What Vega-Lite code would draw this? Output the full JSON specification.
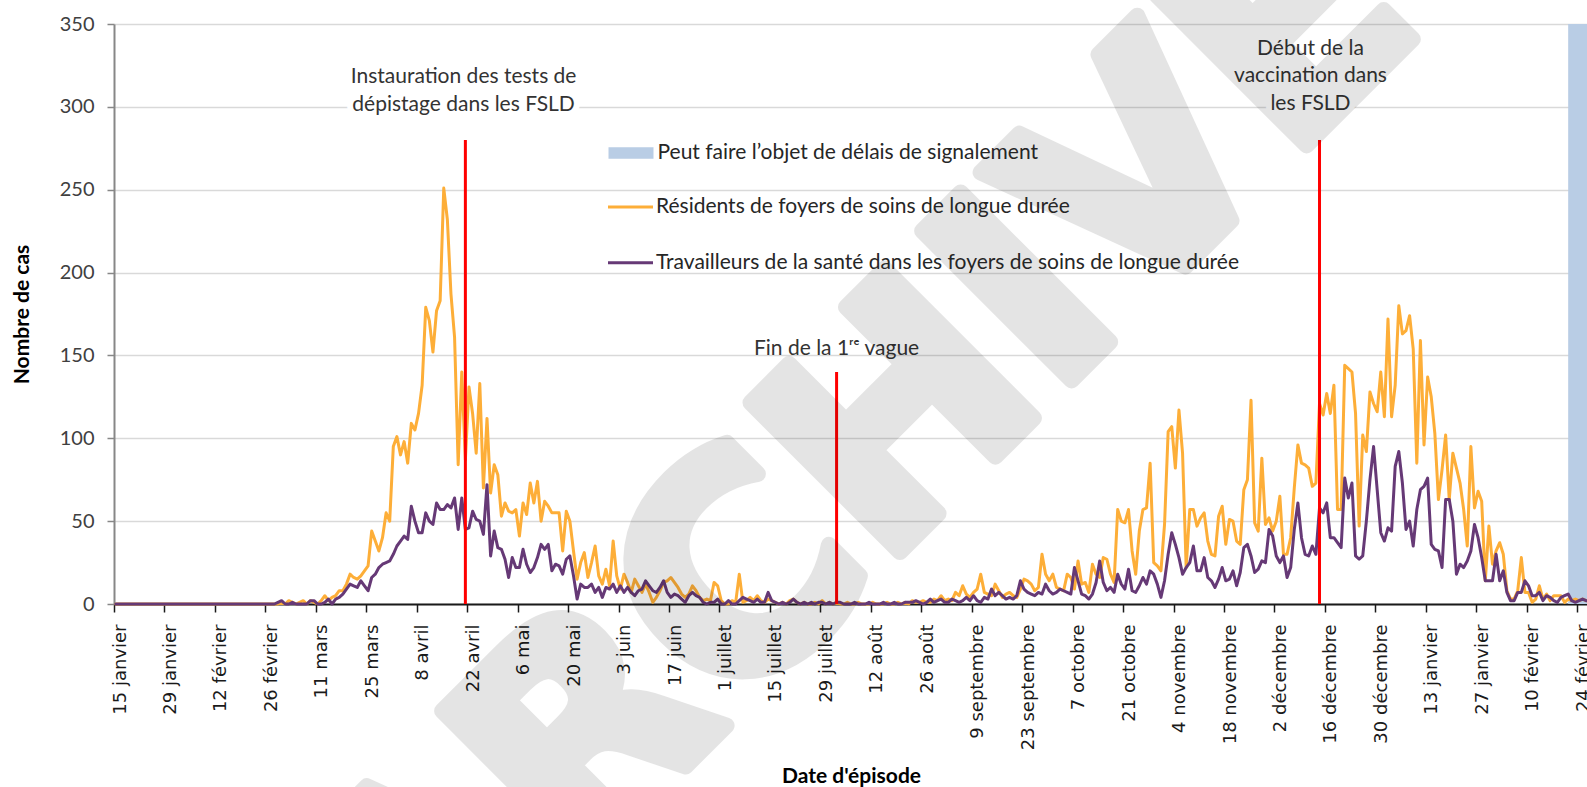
{
"$schema":"https://vega.github.io/schema/vega-lite/v6.json",
"width":1474,"height":580,"autosize":"none",
"padding":{"left":114,"top":24,"right":0,"bottom":183},
"background":"white",
"datasets":{
"quotidien":[
{"date":"2020-01-15","res":0,"trav":0},{"date":"2020-01-16","res":0,"trav":0},{"date":"2020-01-17","res":0,"trav":0},{"date":"2020-01-18","res":0,"trav":0},{"date":"2020-01-19","res":0,"trav":0},{"date":"2020-01-20","res":0,"trav":0},{"date":"2020-01-21","res":0,"trav":0},{"date":"2020-01-22","res":0,"trav":0},{"date":"2020-01-23","res":0,"trav":0},{"date":"2020-01-24","res":0,"trav":0},{"date":"2020-01-25","res":0,"trav":0},{"date":"2020-01-26","res":0,"trav":0},{"date":"2020-01-27","res":0,"trav":0},{"date":"2020-01-28","res":0,"trav":0},{"date":"2020-01-29","res":0,"trav":0},{"date":"2020-01-30","res":0,"trav":0},{"date":"2020-01-31","res":0,"trav":0},
{"date":"2020-02-01","res":0,"trav":0},{"date":"2020-02-02","res":0,"trav":0},{"date":"2020-02-03","res":0,"trav":0},{"date":"2020-02-04","res":0,"trav":0},{"date":"2020-02-05","res":0,"trav":0},{"date":"2020-02-06","res":0,"trav":0},{"date":"2020-02-07","res":0,"trav":0},{"date":"2020-02-08","res":0,"trav":0},{"date":"2020-02-09","res":0,"trav":0},{"date":"2020-02-10","res":0,"trav":0},{"date":"2020-02-11","res":0,"trav":0},{"date":"2020-02-12","res":0,"trav":0},{"date":"2020-02-13","res":0,"trav":0},{"date":"2020-02-14","res":0,"trav":0},{"date":"2020-02-15","res":0,"trav":0},{"date":"2020-02-16","res":0,"trav":0},{"date":"2020-02-17","res":0,"trav":0},{"date":"2020-02-18","res":0,"trav":0},{"date":"2020-02-19","res":0,"trav":0},{"date":"2020-02-20","res":0,"trav":0},{"date":"2020-02-21","res":0,"trav":0},{"date":"2020-02-22","res":0,"trav":0},{"date":"2020-02-23","res":0,"trav":0},{"date":"2020-02-24","res":0,"trav":0},{"date":"2020-02-25","res":0,"trav":0},{"date":"2020-02-26","res":0,"trav":0},{"date":"2020-02-27","res":0,"trav":0},{"date":"2020-02-28","res":0,"trav":0},{"date":"2020-02-29","res":0,"trav":1},
{"date":"2020-03-01","res":1,"trav":2},{"date":"2020-03-02","res":0,"trav":0},{"date":"2020-03-03","res":2,"trav":0},{"date":"2020-03-04","res":1,"trav":1},{"date":"2020-03-05","res":0,"trav":0},{"date":"2020-03-06","res":1,"trav":0},{"date":"2020-03-07","res":2,"trav":0},{"date":"2020-03-08","res":0,"trav":0},{"date":"2020-03-09","res":2,"trav":2},{"date":"2020-03-10","res":1,"trav":2},{"date":"2020-03-11","res":0,"trav":0},{"date":"2020-03-12","res":2,"trav":0},{"date":"2020-03-13","res":5,"trav":1},{"date":"2020-03-14","res":2,"trav":3},{"date":"2020-03-15","res":4,"trav":0},{"date":"2020-03-16","res":5,"trav":3},{"date":"2020-03-17","res":8,"trav":4},{"date":"2020-03-18","res":8,"trav":6},{"date":"2020-03-19","res":12,"trav":9},{"date":"2020-03-20","res":18,"trav":12},{"date":"2020-03-21","res":16,"trav":11},{"date":"2020-03-22","res":15,"trav":10},{"date":"2020-03-23","res":17,"trav":14},{"date":"2020-03-24","res":20,"trav":11},{"date":"2020-03-25","res":23,"trav":8},{"date":"2020-03-26","res":44,"trav":16},{"date":"2020-03-27","res":38,"trav":18},{"date":"2020-03-28","res":32,"trav":22},{"date":"2020-03-29","res":40,"trav":24},{"date":"2020-03-30","res":55,"trav":25},{"date":"2020-03-31","res":50,"trav":26},
{"date":"2020-04-01","res":95,"trav":30},{"date":"2020-04-02","res":101,"trav":35},{"date":"2020-04-03","res":90,"trav":38},{"date":"2020-04-04","res":98,"trav":41},{"date":"2020-04-05","res":85,"trav":39},{"date":"2020-04-06","res":109,"trav":59},{"date":"2020-04-07","res":105,"trav":50},{"date":"2020-04-08","res":115,"trav":43},{"date":"2020-04-09","res":132,"trav":43},{"date":"2020-04-10","res":179,"trav":55},{"date":"2020-04-11","res":171,"trav":50},{"date":"2020-04-12","res":152,"trav":48},{"date":"2020-04-13","res":177,"trav":61},{"date":"2020-04-14","res":183,"trav":57},{"date":"2020-04-15","res":251,"trav":57},{"date":"2020-04-16","res":232,"trav":60},{"date":"2020-04-17","res":187,"trav":58},{"date":"2020-04-18","res":161,"trav":64},{"date":"2020-04-19","res":84,"trav":45},{"date":"2020-04-20","res":140,"trav":64},{"date":"2020-04-21","res":87,"trav":45},{"date":"2020-04-22","res":131,"trav":46},{"date":"2020-04-23","res":115,"trav":56},{"date":"2020-04-24","res":91,"trav":51},{"date":"2020-04-25","res":133,"trav":50},{"date":"2020-04-26","res":70,"trav":42},{"date":"2020-04-27","res":112,"trav":72},{"date":"2020-04-28","res":67,"trav":29},{"date":"2020-04-29","res":84,"trav":44},{"date":"2020-04-30","res":78,"trav":34},
{"date":"2020-05-01","res":53,"trav":33},{"date":"2020-05-02","res":61,"trav":27},{"date":"2020-05-03","res":56,"trav":16},{"date":"2020-05-04","res":55,"trav":28},{"date":"2020-05-05","res":57,"trav":22},{"date":"2020-05-06","res":41,"trav":22},{"date":"2020-05-07","res":61,"trav":33},{"date":"2020-05-08","res":54,"trav":24},{"date":"2020-05-09","res":73,"trav":19},{"date":"2020-05-10","res":61,"trav":22},{"date":"2020-05-11","res":74,"trav":28},{"date":"2020-05-12","res":50,"trav":36},{"date":"2020-05-13","res":62,"trav":33},{"date":"2020-05-14","res":59,"trav":36},{"date":"2020-05-15","res":55,"trav":20},{"date":"2020-05-16","res":55,"trav":24},{"date":"2020-05-17","res":55,"trav":23},{"date":"2020-05-18","res":32,"trav":18},{"date":"2020-05-19","res":56,"trav":27},{"date":"2020-05-20","res":50,"trav":29},{"date":"2020-05-21","res":32,"trav":17},{"date":"2020-05-22","res":15,"trav":3},{"date":"2020-05-23","res":25,"trav":12},{"date":"2020-05-24","res":31,"trav":10},{"date":"2020-05-25","res":16,"trav":10},{"date":"2020-05-26","res":25,"trav":12},{"date":"2020-05-27","res":35,"trav":7},{"date":"2020-05-28","res":17,"trav":10},{"date":"2020-05-29","res":12,"trav":4},{"date":"2020-05-30","res":21,"trav":10},{"date":"2020-05-31","res":11,"trav":9},
{"date":"2020-06-01","res":38,"trav":12},{"date":"2020-06-02","res":17,"trav":7},{"date":"2020-06-03","res":9,"trav":11},{"date":"2020-06-04","res":18,"trav":7},{"date":"2020-06-05","res":13,"trav":10},{"date":"2020-06-06","res":7,"trav":7},{"date":"2020-06-07","res":15,"trav":5},{"date":"2020-06-08","res":11,"trav":8},{"date":"2020-06-09","res":7,"trav":9},{"date":"2020-06-10","res":12,"trav":14},{"date":"2020-06-11","res":7,"trav":11},{"date":"2020-06-12","res":1,"trav":8},{"date":"2020-06-13","res":4,"trav":7},{"date":"2020-06-14","res":8,"trav":10},{"date":"2020-06-15","res":13,"trav":14},{"date":"2020-06-16","res":14,"trav":7},{"date":"2020-06-17","res":16,"trav":4},{"date":"2020-06-18","res":13,"trav":6},{"date":"2020-06-19","res":10,"trav":5},{"date":"2020-06-20","res":6,"trav":3},{"date":"2020-06-21","res":4,"trav":1},{"date":"2020-06-22","res":6,"trav":5},{"date":"2020-06-23","res":11,"trav":7},{"date":"2020-06-24","res":8,"trav":5},{"date":"2020-06-25","res":4,"trav":4},{"date":"2020-06-26","res":2,"trav":1},{"date":"2020-06-27","res":3,"trav":0},{"date":"2020-06-28","res":2,"trav":1},{"date":"2020-06-29","res":13,"trav":1},{"date":"2020-06-30","res":11,"trav":3},
{"date":"2020-07-01","res":2,"trav":0},{"date":"2020-07-02","res":0,"trav":0},{"date":"2020-07-03","res":0,"trav":2},{"date":"2020-07-04","res":2,"trav":0},{"date":"2020-07-05","res":1,"trav":0},{"date":"2020-07-06","res":18,"trav":2},{"date":"2020-07-07","res":1,"trav":4},{"date":"2020-07-08","res":2,"trav":3},{"date":"2020-07-09","res":4,"trav":2},{"date":"2020-07-10","res":2,"trav":1},{"date":"2020-07-11","res":5,"trav":3},{"date":"2020-07-12","res":2,"trav":1},{"date":"2020-07-13","res":1,"trav":1},{"date":"2020-07-14","res":3,"trav":7},{"date":"2020-07-15","res":2,"trav":2},{"date":"2020-07-16","res":1,"trav":1},{"date":"2020-07-17","res":0,"trav":0},{"date":"2020-07-18","res":1,"trav":1},{"date":"2020-07-19","res":0,"trav":0},{"date":"2020-07-20","res":2,"trav":1},{"date":"2020-07-21","res":3,"trav":3},{"date":"2020-07-22","res":1,"trav":1},{"date":"2020-07-23","res":0,"trav":0},{"date":"2020-07-24","res":1,"trav":1},{"date":"2020-07-25","res":0,"trav":0},{"date":"2020-07-26","res":0,"trav":1},{"date":"2020-07-27","res":1,"trav":0},{"date":"2020-07-28","res":0,"trav":1},{"date":"2020-07-29","res":2,"trav":1},{"date":"2020-07-30","res":0,"trav":0},{"date":"2020-07-31","res":1,"trav":1},
{"date":"2020-08-01","res":0,"trav":0},{"date":"2020-08-02","res":1,"trav":1},{"date":"2020-08-03","res":0,"trav":1},{"date":"2020-08-04","res":0,"trav":0},{"date":"2020-08-05","res":1,"trav":0},{"date":"2020-08-06","res":0,"trav":0},{"date":"2020-08-07","res":0,"trav":1},{"date":"2020-08-08","res":1,"trav":0},{"date":"2020-08-09","res":0,"trav":0},{"date":"2020-08-10","res":0,"trav":0},{"date":"2020-08-11","res":0,"trav":1},{"date":"2020-08-12","res":1,"trav":0},{"date":"2020-08-13","res":0,"trav":0},{"date":"2020-08-14","res":0,"trav":0},{"date":"2020-08-15","res":0,"trav":1},{"date":"2020-08-16","res":1,"trav":0},{"date":"2020-08-17","res":0,"trav":0},{"date":"2020-08-18","res":0,"trav":1},{"date":"2020-08-19","res":1,"trav":0},{"date":"2020-08-20","res":0,"trav":0},{"date":"2020-08-21","res":1,"trav":1},{"date":"2020-08-22","res":0,"trav":1},{"date":"2020-08-23","res":2,"trav":1},{"date":"2020-08-24","res":1,"trav":2},{"date":"2020-08-25","res":1,"trav":1},{"date":"2020-08-26","res":2,"trav":0},{"date":"2020-08-27","res":1,"trav":1},{"date":"2020-08-28","res":1,"trav":3},{"date":"2020-08-29","res":3,"trav":1},{"date":"2020-08-30","res":2,"trav":2},{"date":"2020-08-31","res":5,"trav":3},
{"date":"2020-09-01","res":2,"trav":1},{"date":"2020-09-02","res":3,"trav":1},{"date":"2020-09-03","res":2,"trav":3},{"date":"2020-09-04","res":7,"trav":2},{"date":"2020-09-05","res":5,"trav":1},{"date":"2020-09-06","res":11,"trav":2},{"date":"2020-09-07","res":6,"trav":4},{"date":"2020-09-08","res":4,"trav":2},{"date":"2020-09-09","res":7,"trav":5},{"date":"2020-09-10","res":9,"trav":2},{"date":"2020-09-11","res":18,"trav":1},{"date":"2020-09-12","res":7,"trav":4},{"date":"2020-09-13","res":6,"trav":3},{"date":"2020-09-14","res":5,"trav":9},{"date":"2020-09-15","res":12,"trav":5},{"date":"2020-09-16","res":8,"trav":7},{"date":"2020-09-17","res":4,"trav":5},{"date":"2020-09-18","res":6,"trav":3},{"date":"2020-09-19","res":7,"trav":4},{"date":"2020-09-20","res":5,"trav":3},{"date":"2020-09-21","res":4,"trav":5},{"date":"2020-09-22","res":9,"trav":14},{"date":"2020-09-23","res":15,"trav":9},{"date":"2020-09-24","res":14,"trav":7},{"date":"2020-09-25","res":12,"trav":6},{"date":"2020-09-26","res":8,"trav":5},{"date":"2020-09-27","res":10,"trav":7},{"date":"2020-09-28","res":30,"trav":6},{"date":"2020-09-29","res":18,"trav":12},{"date":"2020-09-30","res":14,"trav":8},
{"date":"2020-10-01","res":18,"trav":6},{"date":"2020-10-02","res":10,"trav":7},{"date":"2020-10-03","res":9,"trav":9},{"date":"2020-10-04","res":8,"trav":8},{"date":"2020-10-05","res":18,"trav":7},{"date":"2020-10-06","res":16,"trav":6},{"date":"2020-10-07","res":9,"trav":22},{"date":"2020-10-08","res":26,"trav":14},{"date":"2020-10-09","res":12,"trav":6},{"date":"2020-10-10","res":13,"trav":5},{"date":"2020-10-11","res":7,"trav":3},{"date":"2020-10-12","res":24,"trav":6},{"date":"2020-10-13","res":18,"trav":13},{"date":"2020-10-14","res":16,"trav":26},{"date":"2020-10-15","res":28,"trav":13},{"date":"2020-10-16","res":27,"trav":8},{"date":"2020-10-17","res":18,"trav":10},{"date":"2020-10-18","res":13,"trav":7},{"date":"2020-10-19","res":57,"trav":18},{"date":"2020-10-20","res":50,"trav":12},{"date":"2020-10-21","res":49,"trav":9},{"date":"2020-10-22","res":57,"trav":21},{"date":"2020-10-23","res":32,"trav":8},{"date":"2020-10-24","res":18,"trav":7},{"date":"2020-10-25","res":44,"trav":11},{"date":"2020-10-26","res":57,"trav":16},{"date":"2020-10-27","res":58,"trav":12},{"date":"2020-10-28","res":85,"trav":20},{"date":"2020-10-29","res":25,"trav":18},{"date":"2020-10-30","res":23,"trav":12},{"date":"2020-10-31","res":20,"trav":4},
{"date":"2020-11-01","res":48,"trav":14},{"date":"2020-11-02","res":104,"trav":30},{"date":"2020-11-03","res":107,"trav":43},{"date":"2020-11-04","res":82,"trav":36},{"date":"2020-11-05","res":117,"trav":28},{"date":"2020-11-06","res":91,"trav":18},{"date":"2020-11-07","res":22,"trav":22},{"date":"2020-11-08","res":57,"trav":25},{"date":"2020-11-09","res":57,"trav":35},{"date":"2020-11-10","res":47,"trav":20},{"date":"2020-11-11","res":52,"trav":20},{"date":"2020-11-12","res":55,"trav":28},{"date":"2020-11-13","res":38,"trav":16},{"date":"2020-11-14","res":30,"trav":14},{"date":"2020-11-15","res":29,"trav":10},{"date":"2020-11-16","res":53,"trav":15},{"date":"2020-11-17","res":59,"trav":22},{"date":"2020-11-18","res":36,"trav":14},{"date":"2020-11-19","res":51,"trav":15},{"date":"2020-11-20","res":50,"trav":20},{"date":"2020-11-21","res":38,"trav":11},{"date":"2020-11-22","res":36,"trav":19},{"date":"2020-11-23","res":69,"trav":34},{"date":"2020-11-24","res":75,"trav":36},{"date":"2020-11-25","res":123,"trav":29},{"date":"2020-11-26","res":49,"trav":19},{"date":"2020-11-27","res":44,"trav":21},{"date":"2020-11-28","res":88,"trav":26},{"date":"2020-11-29","res":48,"trav":25},{"date":"2020-11-30","res":52,"trav":45},
{"date":"2020-12-01","res":44,"trav":41},{"date":"2020-12-02","res":50,"trav":29},{"date":"2020-12-03","res":65,"trav":25},{"date":"2020-12-04","res":30,"trav":29},{"date":"2020-12-05","res":30,"trav":16},{"date":"2020-12-06","res":40,"trav":22},{"date":"2020-12-07","res":70,"trav":45},{"date":"2020-12-08","res":96,"trav":61},{"date":"2020-12-09","res":85,"trav":40},{"date":"2020-12-10","res":84,"trav":30},{"date":"2020-12-11","res":82,"trav":29},{"date":"2020-12-12","res":71,"trav":35},{"date":"2020-12-13","res":73,"trav":30},{"date":"2020-12-14","res":121,"trav":58},{"date":"2020-12-15","res":114,"trav":55},{"date":"2020-12-16","res":127,"trav":61},{"date":"2020-12-17","res":115,"trav":40},{"date":"2020-12-18","res":132,"trav":40},{"date":"2020-12-19","res":57,"trav":37},{"date":"2020-12-20","res":57,"trav":34},{"date":"2020-12-21","res":144,"trav":76},{"date":"2020-12-22","res":142,"trav":64},{"date":"2020-12-23","res":140,"trav":73},{"date":"2020-12-24","res":115,"trav":29},{"date":"2020-12-25","res":47,"trav":27},{"date":"2020-12-26","res":102,"trav":29},{"date":"2020-12-27","res":92,"trav":50},{"date":"2020-12-28","res":128,"trav":75},{"date":"2020-12-29","res":121,"trav":95},{"date":"2020-12-30","res":116,"trav":69},{"date":"2020-12-31","res":140,"trav":43},
{"date":"2021-01-01","res":113,"trav":38},{"date":"2021-01-02","res":172,"trav":46},{"date":"2021-01-03","res":113,"trav":44},{"date":"2021-01-04","res":132,"trav":83},{"date":"2021-01-05","res":180,"trav":92},{"date":"2021-01-06","res":163,"trav":73},{"date":"2021-01-07","res":165,"trav":45},{"date":"2021-01-08","res":174,"trav":50},{"date":"2021-01-09","res":154,"trav":35},{"date":"2021-01-10","res":85,"trav":57},{"date":"2021-01-11","res":159,"trav":69},{"date":"2021-01-12","res":96,"trav":71},{"date":"2021-01-13","res":137,"trav":76},{"date":"2021-01-14","res":125,"trav":36},{"date":"2021-01-15","res":103,"trav":33},{"date":"2021-01-16","res":63,"trav":32},{"date":"2021-01-17","res":81,"trav":22},{"date":"2021-01-18","res":102,"trav":63},{"date":"2021-01-19","res":63,"trav":63},{"date":"2021-01-20","res":91,"trav":50},{"date":"2021-01-21","res":82,"trav":18},{"date":"2021-01-22","res":73,"trav":24},{"date":"2021-01-23","res":57,"trav":22},{"date":"2021-01-24","res":35,"trav":26},{"date":"2021-01-25","res":95,"trav":32},{"date":"2021-01-26","res":58,"trav":48},{"date":"2021-01-27","res":68,"trav":40},{"date":"2021-01-28","res":62,"trav":28},{"date":"2021-01-29","res":14,"trav":14},{"date":"2021-01-30","res":47,"trav":14},{"date":"2021-01-31","res":24,"trav":14},
{"date":"2021-02-01","res":32,"trav":30},{"date":"2021-02-02","res":37,"trav":14},{"date":"2021-02-03","res":30,"trav":20},{"date":"2021-02-04","res":8,"trav":7},{"date":"2021-02-05","res":3,"trav":2},{"date":"2021-02-06","res":3,"trav":2},{"date":"2021-02-07","res":8,"trav":7},{"date":"2021-02-08","res":28,"trav":7},{"date":"2021-02-09","res":7,"trav":14},{"date":"2021-02-10","res":7,"trav":11},{"date":"2021-02-11","res":1,"trav":5},{"date":"2021-02-12","res":3,"trav":5},{"date":"2021-02-13","res":11,"trav":7},{"date":"2021-02-14","res":3,"trav":2},{"date":"2021-02-15","res":6,"trav":5},{"date":"2021-02-16","res":2,"trav":4},{"date":"2021-02-17","res":5,"trav":2},{"date":"2021-02-18","res":5,"trav":1},{"date":"2021-02-19","res":5,"trav":4},{"date":"2021-02-20","res":1,"trav":5},{"date":"2021-02-21","res":3,"trav":6},{"date":"2021-02-22","res":2,"trav":2},{"date":"2021-02-23","res":3,"trav":1},{"date":"2021-02-24","res":2,"trav":2},{"date":"2021-02-25","res":3,"trav":3},{"date":"2021-02-26","res":2,"trav":2}
],
"signalement":[{"date":"2021-02-21","fin":"2021-03-01","serie":"band"}],
"evenements":[{"date":"2020-04-21","sommet":280},{"date":"2020-08-02","sommet":140},{"date":"2020-12-14","sommet":280}],
"notes":[
{"date":"2020-04-20T12:00:00Z","position":318,"texte":"Instauration des tests de\ndépistage dans les FSLD"},
{"date":"2020-08-02T00:00:00Z","position":154,"texte":"Fin de la 1ʳᵉ vague"},
{"date":"2020-12-11T12:00:00Z","position":335,"texte":"Début de la\nvaccination dans\nles FSLD"}
],
"filigrane":[{"date":"2020-08-25T10:00:00Z","position":44,"texte":"ARCHIVÉ"}]
},
"encoding":{
"x":{"field":"date","type":"temporal",
"scale":{"domain":[{"year":2020,"month":1,"date":14,"hours":12,"utc":true},{"year":2021,"month":2,"date":26,"hours":12,"utc":true}]},
"axis":{"title":"Date d'épisode","values":[
{"year":2020,"month":1,"date":15,"utc":true},{"year":2020,"month":1,"date":29,"utc":true},{"year":2020,"month":2,"date":12,"utc":true},{"year":2020,"month":2,"date":26,"utc":true},{"year":2020,"month":3,"date":11,"utc":true},{"year":2020,"month":3,"date":25,"utc":true},{"year":2020,"month":4,"date":8,"utc":true},{"year":2020,"month":4,"date":22,"utc":true},{"year":2020,"month":5,"date":6,"utc":true},{"year":2020,"month":5,"date":20,"utc":true},{"year":2020,"month":6,"date":3,"utc":true},{"year":2020,"month":6,"date":17,"utc":true},{"year":2020,"month":7,"date":1,"utc":true},{"year":2020,"month":7,"date":15,"utc":true},{"year":2020,"month":7,"date":29,"utc":true},{"year":2020,"month":8,"date":12,"utc":true},{"year":2020,"month":8,"date":26,"utc":true},{"year":2020,"month":9,"date":9,"utc":true},{"year":2020,"month":9,"date":23,"utc":true},{"year":2020,"month":10,"date":7,"utc":true},{"year":2020,"month":10,"date":21,"utc":true},{"year":2020,"month":11,"date":4,"utc":true},{"year":2020,"month":11,"date":18,"utc":true},{"year":2020,"month":12,"date":2,"utc":true},{"year":2020,"month":12,"date":16,"utc":true},{"year":2020,"month":12,"date":30,"utc":true},{"year":2021,"month":1,"date":13,"utc":true},{"year":2021,"month":1,"date":27,"utc":true},{"year":2021,"month":2,"date":10,"utc":true},{"year":2021,"month":2,"date":24,"utc":true}],
"labelExpr":"utcdate(datum.value) + ' ' + ['janvier','février','mars','avril','mai','juin','juillet','août','septembre','octobre','novembre','décembre'][utcmonth(datum.value)]",
"labelAngle":-90,"labelAlign":"right","labelBaseline":"middle","labelFont":"DejaVu Sans","labelFontSize":18,"labelColor":"#1a1a1a","labelPadding":12,"labelOffset":6,"labelOverlap":false,"labelFlush":false,"labelBound":false,
"tickOffset":-1.8,"tickSize":8,"tickColor":"#1a1a1a","tickWidth":1.5,"domainColor":"#1a1a1a","domainWidth":2,"grid":false,
"titleFont":"Lato","titleFontWeight":"bold","titleFontSize":21,"titleColor":"#000000","titleY":172,"titleBaseline":"middle"}}
},
"layer":[
{"data":{"name":"signalement"},"mark":{"type":"rect","clip":true},
"encoding":{"x2":{"field":"fin"},
"fill":{"field":"serie","type":"nominal","scale":{"domain":["band"],"range":["#B9CDE5"]},
"legend":{"title":null,"orient":"none","legendX":461,"legendY":85.5,"padding":33,"symbolType":"M-2.25,-0.585H2.25V0.585H-2.25Z","symbolSize":400,"symbolOffset":12.5,"symbolStrokeWidth":0,"symbolOpacity":1,"labelOffset":16,"labelFont":"Lato","labelFontSize":21,"labelColor":"#262626","labelLimit":0,
"labelExpr":"'Peut faire l’objet de délais de signalement'"}}}},
{"data":{"name":"quotidien"},"transform":[{"fold":["res","trav"],"as":["serie","cas"]}],
"mark":{"type":"line","strokeWidth":3,"strokeJoin":"round","strokeCap":"round"},
"encoding":{
"y":{"field":"cas","type":"quantitative","scale":{"domain":[0,350],"nice":false,"zero":true},
"axis":{"title":"Nombre de cas","values":[0,50,100,150,200,250,300,350],"labelFont":"Lato","labelFontSize":20,"labelColor":"#404040","labelPadding":13,"tickSize":7,"tickColor":"#878787","tickWidth":1.5,"domainColor":"#878787","domainWidth":2,"grid":true,"gridColor":"#D9D9D9","gridWidth":1.3,"labelFlush":false,
"titleFont":"Lato","titleFontWeight":"bold","titleFontSize":21,"titleColor":"#000000","titleX":-92,"titleY":290,"titleAngle":-90,"titleAlign":"center","titleBaseline":"middle"}},
"stroke":{"field":"serie","type":"nominal","scale":{"domain":["res","trav"],"range":["#FDAE38","#663976"]},
"legend":{"title":null,"orient":"none","legendX":465.5,"legendY":132,"padding":27,"symbolType":"stroke","symbolSize":2025,"symbolOffset":0,"symbolStrokeWidth":3,"symbolOpacity":1,"labelOffset":1.5,"rowPadding":21.8,"labelFont":"Lato","labelFontSize":21,"labelColor":"#262626","labelLimit":0,
"labelExpr":"datum.value === 'res' ? 'Résidents de foyers de soins de longue durée' : 'Travailleurs de la santé dans les foyers de soins de longue durée'"}}}},
{"data":{"name":"evenements"},"mark":{"type":"rule","color":"#FF0000","strokeWidth":3},
"encoding":{"y":{"field":"sommet","type":"quantitative"},"y2":{"datum":0}}},
{"data":{"name":"notes"},"transform":[{"filter":"datum.position > 200"}],"mark":{"type":"text","font":"Lato","fontSize":21,"fill":"#ffffff","stroke":"#ffffff","strokeWidth":12,"strokeJoin":"round","align":"center","baseline":"middle","lineBreak":"\n","lineHeight":27.5},
"encoding":{"y":{"field":"position","type":"quantitative"},"text":{"field":"texte"}}},
{"data":{"name":"notes"},"mark":{"type":"text","font":"Lato","fontSize":21,"color":"#333333","align":"center","baseline":"middle","lineBreak":"\n","lineHeight":27.5},
"encoding":{"y":{"field":"position","type":"quantitative"},"text":{"field":"texte"}}},
{"data":{"name":"filigrane"},"mark":{"type":"text","font":"DejaVu Sans","fontWeight":"bold","fontSize":290,"angle":-45,"align":"center","baseline":"alphabetic","fill":"#000000","stroke":"#000000","strokeWidth":16,"strokeJoin":"round","opacity":0.1},
"encoding":{"y":{"field":"position","type":"quantitative"},"text":{"field":"texte"}}}
],
"config":{"view":{"stroke":null}}
}
